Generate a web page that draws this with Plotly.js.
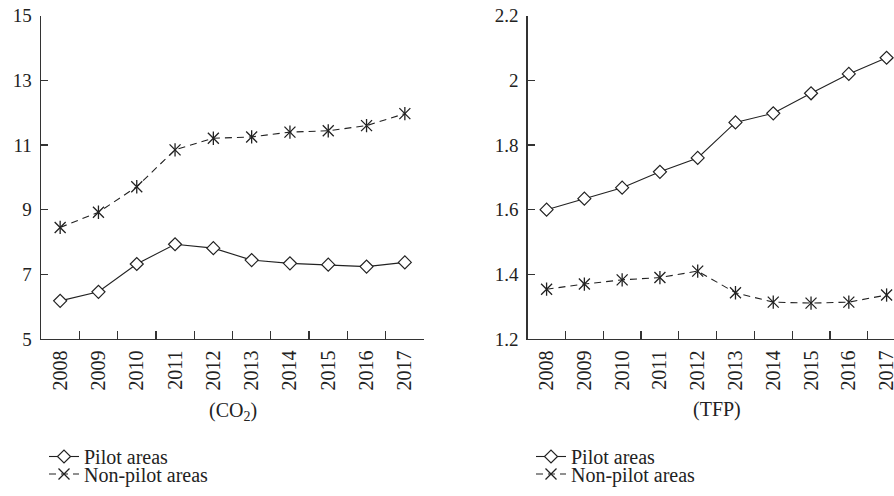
<!DOCTYPE html>
<html>
<head>
<meta charset="utf-8">
<script src="https://cdn.plot.ly/plotly-3.0.1.min.js"></script>
<style>html,body{margin:0;padding:0;background:#fff;}#chart{width:894px;height:496px;}</style>
</head>
<body>
<div id="chart"></div>
<script>
var years = ["2008","2009","2010","2011","2012","2013","2014","2015","2016","2017"];
var co2Pilot = [6.18, 6.46, 7.32, 7.93, 7.81, 7.44, 7.34, 7.30, 7.24, 7.37];
var co2NonPilot = [8.45, 8.92, 9.71, 10.85, 11.21, 11.25, 11.40, 11.44, 11.60, 11.97];
var tfpPilot = [1.600, 1.634, 1.668, 1.717, 1.760, 1.870, 1.898, 1.960, 2.020, 2.070];
var tfpNonPilot = [1.354, 1.370, 1.383, 1.390, 1.410, 1.343, 1.314, 1.311, 1.314, 1.336];
var seriesNames = ["Pilot areas", "Non-pilot areas"];
var panelTitles = ["(CO<sub>2</sub>)", "(TFP)"];

var FONT = "Liberation Serif, Times New Roman, serif";
var INK = "#222222";

function pilotTrace(y, xa, ya, lg) {
  return {x: years, y: y, xaxis: xa, yaxis: ya, name: seriesNames[0], legend: lg,
    type: "scatter", mode: "lines+markers",
    line: {color: INK, width: 1.1},
    marker: {symbol: "diamond", size: 10, color: "#ffffff", line: {color: INK, width: 1.2}}};
}
function nonPilotTrace(y, xa, ya, lg) {
  return {x: years, y: y, xaxis: xa, yaxis: ya, name: seriesNames[1], legend: lg,
    type: "scatter", mode: "lines+markers",
    line: {color: INK, width: 1.1, dash: "7px,5px"},
    marker: {symbol: "x-thin-open", size: 11, color: INK, line: {color: INK, width: 1.3}}};
}
function spokeTrace(y, xa, ya) {
  return {x: years, y: y, xaxis: xa, yaxis: ya, showlegend: false, hoverinfo: "skip",
    type: "scatter", mode: "markers",
    marker: {symbol: "line-ns-open", size: 9.5, color: INK, line: {color: INK, width: 1.3}}};
}

var data = [
  pilotTrace(co2Pilot, "x", "y", "legend"),
  nonPilotTrace(co2NonPilot, "x", "y", "legend2"),
  spokeTrace(co2NonPilot, "x", "y"),
  pilotTrace(tfpPilot, "x2", "y2", "legend3"),
  nonPilotTrace(tfpNonPilot, "x2", "y2", "legend4"),
  spokeTrace(tfpNonPilot, "x2", "y2")
];

var W = 894, H = 496;
var yDom = [(H - 339) / H, (H - 15.7) / H];

function xAxis(domain, range) {
  return {domain: domain, type: "category", range: range, tickson: "boundaries",
    ticks: "inside", ticklen: 8, tickwidth: 1.3, tickcolor: "#333",
    showline: true, linecolor: "#333", linewidth: 1.4, showgrid: false, zeroline: false,
    tickangle: -90, tickfont: {family: FONT, size: 20, color: INK}, ticklabelstandoff: 2,
    fixedrange: true};
}
function yAxis(anchor, range, dtick) {
  return {domain: yDom, anchor: anchor, range: range, dtick: dtick, tick0: range[0],
    ticks: "inside", ticklen: 7, tickwidth: 1.3, tickcolor: "#333",
    showline: true, linecolor: "#333", linewidth: 1.4, showgrid: false, zeroline: false,
    tickfont: {family: FONT, size: 19, color: INK}, ticklabelstandoff: 4, fixedrange: true};
}

function legendAt(xpx, ypx) {
  return {x: xpx / W, y: (H - ypx) / H, xanchor: "left", yanchor: "middle",
    bgcolor: "rgba(0,0,0,0)", borderwidth: 0, font: {family: FONT, size: 20, color: INK}};
}

var layout = {
  width: W, height: H,
  margin: {l: 0, r: 0, t: 0, b: 0},
  paper_bgcolor: "#ffffff", plot_bgcolor: "#ffffff",
  showlegend: true,
  xaxis: xAxis([41 / W, 424 / W], [-0.5, 9.5]),
  yaxis: yAxis("x", [5, 15], 2),
  xaxis2: xAxis([527.7 / W, 1], [-0.5, 9.196]),
  yaxis2: yAxis("x2", [1.2, 2.2], 0.2),
  legend: legendAt(44, 456.5),
  legend2: legendAt(44, 474),
  legend3: legendAt(531, 456.5),
  legend4: legendAt(531, 474),
  annotations: [
    {xref: "x", yref: "paper", x: 4.5, y: (H - 411) / H, text: panelTitles[0], showarrow: false,
     xanchor: "center", yanchor: "middle", font: {family: FONT, size: 20, color: INK}},
    {xref: "x2", yref: "paper", x: 4.5, y: (H - 409) / H, text: panelTitles[1], showarrow: false,
     xanchor: "center", yanchor: "middle", font: {family: FONT, size: 20, color: INK}}
  ]
};

Plotly.newPlot("chart", data, layout, {displayModeBar: false, staticPlot: true});
</script>
</body>
</html>
